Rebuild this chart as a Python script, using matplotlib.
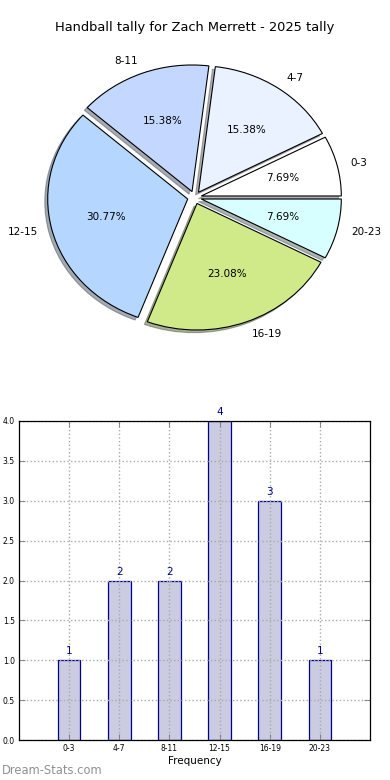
import matplotlib
matplotlib.use("Agg")
import matplotlib.pyplot as plt
import numpy as np

categories = ["0-3", "4-7", "8-11", "12-15", "16-19", "20-23"]
counts = [1, 2, 2, 4, 3, 1]
pie_colors = ["#ffffff", "#eaf1ff", "#c4d8ff", "#b4d6ff", "#d0ea8a", "#d8ffff"]
title = "Handball tally for Zach Merrett - 2025 tally"
yticks = [0.0, 0.5, 1.0, 1.5, 2.0, 2.5, 3.0, 3.5, 4.0]

fig = plt.figure(figsize=(3.9, 7.8), dpi=100)

# Pie
axp = fig.add_axes([19.5/390, 1 - 355.75/780, 350/390, 316.5/780])
wedges, texts, autotexts = axp.pie(
    counts, labels=categories, colors=pie_colors, explode=[0.05]*len(counts),
    autopct="%.2f%%", shadow={"ox": -0.015, "oy": -0.015, "shade": 0.6},
    startangle=0, labeldistance=1.1, pctdistance=0.6,
    wedgeprops=dict(edgecolor="black", linewidth=0.8),
    textprops=dict(fontsize=7.5, color="black"))
axp.set_aspect("auto")
axp.set_xlim(-1.25, 1.25)
axp.set_ylim(-1.25, 1.25)
axp.set_title(title, fontsize=9.4, pad=6)

# Bar
axb = fig.add_axes([19/390, 40/780, 351/390, 319/780])
x = np.arange(len(categories))
axb.bar(x, counts, width=0.45, color="#cbcbe2", edgecolor="#00008b", linewidth=0.9, zorder=1)
for xi, c in zip(x, counts):
    axb.text(xi, c + 0.05, str(c), ha="center", va="bottom", fontsize=7.5, color="#00008b")
axb.set_xlim(-1, len(categories))
axb.set_ylim(0, 4)
axb.set_xticks(x)
axb.set_xticklabels(categories, fontsize=5.5)
axb.set_yticks(yticks)
axb.set_yticklabels([f"{v:.1f}" for v in yticks], fontsize=5.5)
axb.tick_params(direction="in", top=True, right=True, length=4, width=0.6, color="#777777", pad=3)
axb.grid(True, linestyle=":", color="#aaaaaa", linewidth=1.0)
axb.set_axisbelow(False)
axb.set_xlabel("Frequency", fontsize=7.5, labelpad=2)
for s in axb.spines.values():
    s.set_linewidth(0.9)
    s.set_zorder(5)

fig.text(2/390, 1 - 771/780, "Dream-Stats.com", fontsize=8.3, color="#909090", va="center", ha="left")

fig.savefig("out.png", dpi=100)
